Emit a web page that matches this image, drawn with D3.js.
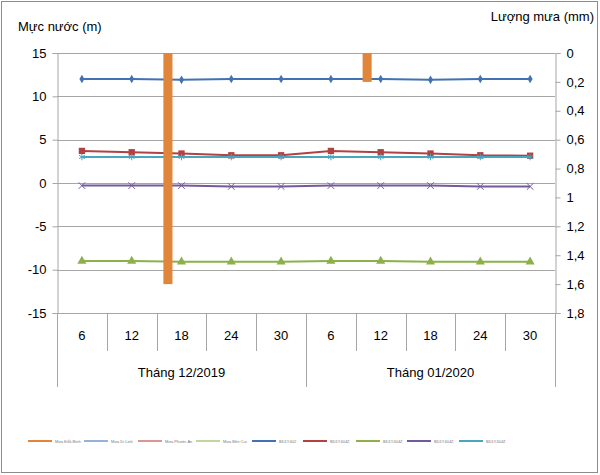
<!DOCTYPE html>
<html>
<head>
<meta charset="utf-8">
<script src="https://cdn.jsdelivr.net/npm/d3@7"></script>
<style>
  body { margin: 0; background: #fff; }
  svg { font-family: "Liberation Sans", Arial, sans-serif; }
</style>
</head>
<body>
<script>
// category labels
var days = ['6', '12', '18', '24', '30', '6', '12', '18', '24', '30'];
var months = ['Tháng 12/2019', 'Tháng 01/2020'];

// rainfall (mm), right axis, inverted
var rainNames = ['Mưa Đắk Bình', 'Mưa Di Linh', 'Mưa Phước An', 'Mưa Bến Củi'];
var rainDakBinh = [0, 0, 1.6, 0, 0, 0, 0.2, 0, 0, 0];
var rainDiLinh = [0, 0, 0, 0, 0, 0, 0, 0, 0, 0];
var rainPhuocAn = [0, 0, 0, 0, 0, 0, 0, 0, 0, 0];
var rainBenCui = [0, 0, 0, 0, 0, 0, 0, 0, 0, 0];

// water level (m), left axis
var wellNames = ['BD1Y402', 'BD1Y404Z', 'BD1Y404Z', 'BD1Y404Z', 'BD1Y404Z'];
var wellA = [12.0, 12.0, 11.9, 12.0, 12.0, 12.0, 12.0, 11.9, 12.0, 12.0];
var wellB = [3.7, 3.55, 3.4, 3.2, 3.2, 3.7, 3.55, 3.4, 3.2, 3.15];
var wellC = [-9.0, -9.0, -9.1, -9.1, -9.1, -9.0, -9.0, -9.1, -9.1, -9.1];
var wellD = [-0.3, -0.3, -0.3, -0.4, -0.4, -0.3, -0.3, -0.3, -0.4, -0.4];
var wellE = [3.0, 3.0, 3.0, 3.0, 3.0, 3.0, 3.0, 3.0, 3.0, 3.0];

var leftTicks = [-15, -10, -5, 0, 5, 10, 15];
var rightTicks = [0, 0.2, 0.4, 0.6, 0.8, 1, 1.2, 1.4, 1.6, 1.8];

(function () {
    'use strict';

    var rainColors = ['#E0853A', '#95B3D7', '#D99694', '#C3D69B'];
    var wellColors = ['#4372B2', '#B3413F', '#8DB04B', '#735A9C', '#47A6C0'];
    var wellMarkers = ['diamond', 'square', 'triangle', 'cross', 'star'];

    var W = 600, H = 475;
    var pLeft = 57, pRight = 555, pTop = 53, pBottom = 313;

    var svg = d3.select('body').append('svg')
        .attr('width', W)
        .attr('height', H);

    svg.append('rect')
        .attr('x', 1.5).attr('y', 1.5)
        .attr('width', W - 4).attr('height', H - 4)
        .attr('fill', '#fff')
        .attr('stroke', '#8c8c8c');

    var x = d3.scaleBand().domain(d3.range(days.length)).range([pLeft, pRight]);
    var xs = d3.scaleBand().domain(rainNames).range([0, x.bandwidth()]).paddingOuter(0.75);
    var yL = d3.scaleLinear().domain([-15, 15]).range([pBottom, pTop]);
    var yR = d3.scaleLinear().domain([0, 1.8]).range([pTop, pBottom]);

    // gridlines
    svg.append('g').selectAll('line')
        .data(leftTicks)
        .enter().append('line')
        .attr('x1', pLeft).attr('x2', pRight)
        .attr('y1', function (d) { return Math.round(yL(d)) + 0.5; })
        .attr('y2', function (d) { return Math.round(yL(d)) + 0.5; })
        .attr('stroke', '#a6a6a6');

    // left axis
    var axL = svg.append('g')
        .attr('transform', 'translate(' + (pLeft + 0.5) + ',0)')
        .call(d3.axisLeft(yL).tickValues(leftTicks)
            .tickFormat(function (d) { return String(d); })
            .tickSize(5).tickPadding(6));
    axL.select('.domain').attr('stroke', '#a6a6a6');
    axL.selectAll('.tick line').attr('stroke', '#a6a6a6');
    axL.selectAll('text').attr('font-size', 13).attr('fill', '#000')
        .attr('font-family', '"Liberation Sans", Arial, sans-serif');

    // right axis
    var fmt = function (d) { return String(d).replace('.', ','); };
    var axR = svg.append('g')
        .attr('transform', 'translate(' + (pRight + 0.5) + ',0)')
        .call(d3.axisRight(yR).tickValues(rightTicks).tickFormat(fmt).tickSize(5).tickPadding(6));
    axR.select('.domain').attr('stroke', '#a6a6a6');
    axR.selectAll('.tick line').attr('stroke', '#a6a6a6');
    axR.selectAll('text').attr('font-size', 13).attr('fill', '#000')
        .attr('font-family', '"Liberation Sans", Arial, sans-serif');

    // category axis
    svg.append('line')
        .attr('x1', pLeft).attr('x2', pRight)
        .attr('y1', pBottom + 0.5).attr('y2', pBottom + 0.5)
        .attr('stroke', '#a6a6a6');

    svg.append('g').selectAll('line')
        .data(d3.range(1, days.length).filter(function (i) { return i !== 5; }))
        .enter().append('line')
        .attr('x1', function (i) { return Math.round(x(i)) + 0.5; })
        .attr('x2', function (i) { return Math.round(x(i)) + 0.5; })
        .attr('y1', pBottom).attr('y2', 351)
        .attr('stroke', '#a6a6a6');

    svg.append('g').selectAll('line')
        .data([0, 5, 10])
        .enter().append('line')
        .attr('x1', function (i) { return Math.round(i < 10 ? x(i) : pRight) + 0.5; })
        .attr('x2', function (i) { return Math.round(i < 10 ? x(i) : pRight) + 0.5; })
        .attr('y1', pBottom).attr('y2', 387)
        .attr('stroke', '#a6a6a6');

    svg.append('g').selectAll('text')
        .data(days)
        .enter().append('text')
        .attr('x', function (d, i) { return x(i) + x.bandwidth() / 2; })
        .attr('y', 340)
        .attr('text-anchor', 'middle')
        .attr('font-size', 13)
        .text(function (d) { return d; });

    svg.append('g').selectAll('text')
        .data(months)
        .enter().append('text')
        .attr('x', function (d, i) { return (x(i * 5) + (i === 0 ? x(5) : pRight)) / 2; })
        .attr('y', 377)
        .attr('text-anchor', 'middle')
        .attr('font-size', 13)
        .text(function (d) { return d; });

    // axis titles
    svg.append('text')
        .attr('x', 18).attr('y', 31)
        .attr('font-size', 13)
        .text('Mực nước (m)');
    svg.append('text')
        .attr('x', 594).attr('y', 21)
        .attr('text-anchor', 'end')
        .attr('font-size', 13)
        .text('Lượng mưa (mm)');

    // water level lines
    var wells = [wellA, wellB, wellC, wellD, wellE];
    var line = d3.line()
        .x(function (d, i) { return x(i) + x.bandwidth() / 2; })
        .y(function (d) { return yL(d); });

    var symbolType = {
        diamond: d3.symbolDiamond,
        square: d3.symbolSquare,
        triangle: d3.symbolTriangle,
        cross: d3.symbolX,
        star: d3.symbolAsterisk
    };
    var symbolSize = { diamond: 22, square: 40, triangle: 36, cross: 30, star: 30 };

    function drawMarker(g, kind, color, cx, cy) {
        var s = d3.symbol().type(symbolType[kind]).size(symbolSize[kind]);
        var p = g.append('path')
            .attr('d', s())
            .attr('transform', 'translate(' + cx + ',' + cy + ')');
        if (kind === 'cross' || kind === 'star') {
            p.attr('fill', 'none').attr('stroke', color).attr('stroke-width', 1);
        } else {
            p.attr('fill', color);
        }
    }

    wells.forEach(function (vals, k) {
        var g = svg.append('g');
        g.append('path')
            .datum(vals)
            .attr('d', line)
            .attr('fill', 'none')
            .attr('stroke', wellColors[k])
            .attr('stroke-width', 2);
        vals.forEach(function (v, i) {
            drawMarker(g, wellMarkers[k], wellColors[k], x(i) + x.bandwidth() / 2, yL(v));
        });
    });

    // rainfall bars (hanging from top)
    var rains = [rainDakBinh, rainDiLinh, rainPhuocAn, rainBenCui];
    rains.forEach(function (vals, k) {
        svg.append('g').selectAll('rect')
            .data(vals)
            .enter().append('rect')
            .attr('x', function (d, i) { return x(i) + xs(rainNames[k]); })
            .attr('y', yR(0))
            .attr('width', xs.bandwidth())
            .attr('height', function (d) { return yR(d) - yR(0); })
            .attr('fill', rainColors[k]);
    });

    // legend
    var legendItems = rainNames.map(function (n, k) {
        return { name: n, color: rainColors[k] };
    }).concat(wellNames.map(function (n, k) {
        return { name: n, color: wellColors[k] };
    }));
    var legendX = [28, 84, 138, 196, 252, 303, 356, 407, 459];
    var legendY = 441;

    legendItems.forEach(function (d, i) {
        var g = svg.append('g').attr('transform', 'translate(' + legendX[i] + ',' + legendY + ')');
        g.append('line')
            .attr('x1', 0).attr('x2', 24)
            .attr('y1', 0).attr('y2', 0)
            .attr('stroke', d.color)
            .attr('stroke-width', 2);
        g.append('text')
            .attr('x', 27).attr('y', 1.5)
            .attr('font-size', 4)
            .attr('fill', '#777')
            .text(d.name);
    });
})();
</script>
</body>
</html>
